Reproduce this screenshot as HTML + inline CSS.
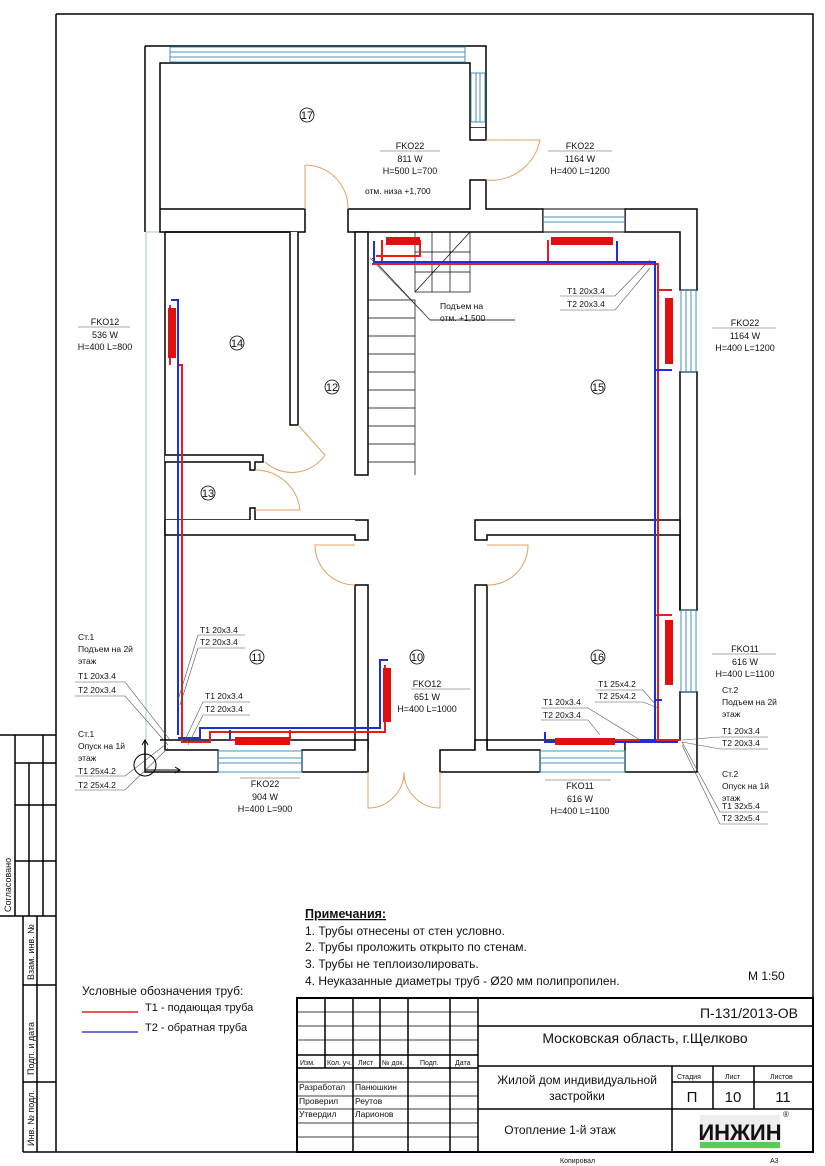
<!DOCTYPE html>
<html><head><meta charset="utf-8"><style>
html,body{margin:0;padding:0;background:#fff}
svg{display:block}
text{font-family:"Liberation Sans","Noto Sans CJK SC",sans-serif;fill:#111}
</style></head><body>
<svg width="825" height="1166" viewBox="0 0 825 1166" xmlns="http://www.w3.org/2000/svg">
<rect width="825" height="1166" fill="#fff"/>
<!-- frame -->
<g fill="none" stroke="#000" stroke-width="1.5">
<path d="M56 14 H813 V1152 H23"/>
<line x1="56" y1="14" x2="56" y2="1152"/>
<!-- top stamp -->
<path d="M0 735 H56 M15 735 V916 M29 763 V916 M43 735 V916 M15 763 H56 M15 805 H56 M15 861 H56 M0 916 H56"/>
<!-- lower stamp -->
<path d="M23 916 V1152 M37 916 V1152 M23 985 H56 M23 1082 H56"/>
</g>
<text transform="translate(11,912) rotate(-90)" font-size="9">Согласовано</text>
<text transform="translate(34,980) rotate(-90)" font-size="9">Взам. инв. №</text>
<text transform="translate(34,1075) rotate(-90)" font-size="9">Подп. и дата</text>
<text transform="translate(34,1146) rotate(-90)" font-size="9">Инв. № подл.</text>

<!-- light outline of building -->
<g fill="none" stroke="#9cc" stroke-width="1">
<path d="M146 232 V770"/>
<path d="M146 232 H165"/>
</g>

<!-- walls -->
<g fill="#fff" stroke="#000" stroke-width="1.5">
<!-- room 17 -->
<path d="M145 46 H486 V128 H470 V63 H160 V209 H305 V232 H160 V209"/>
<path d="M145 46 V232"/>
<path d="M470 128 V140 H486 V128"/>
<path d="M470 180 H486 V209 H543 V232 H348 V209 H470 Z"/>
<path d="M625 209 H697 V290 H680 V232 H625 Z"/>
<path d="M543 209 H625 V232 H543 Z" stroke-width="1"/>
<!-- right outer wall -->
<path d="M680 372 H697 V610 H680 Z"/>
<path d="M680 692 H697 V772 H625 V740 H680 Z"/>
<!-- left rooms -->
<path d="M165 232 V740"/>
<path d="M165 232 H290 V425 H298 V232"/>
<path d="M355 232 H368 V475 H355 Z"/>
<path d="M165 455 H263 V462 H255 V470 H250 V462 H165"/>
<path d="M165 520 H250 V508 H255 V520 H355 V520"/>
<path d="M165 520 V535 H355 V540 H368 V520 H355"/>
<path d="M355 585 H368 V750 H355 Z"/>
<path d="M475 520 H680 V535 H487 V540 H475 Z"/>
<path d="M475 585 H487 V750 H475 Z"/>
<path d="M680 535 V610"/>
<!-- bottom wall -->
<path d="M145 740 V772 H218 V750 H165 V740"/>
<path d="M302 750 H355 V740 H368 V772 H302 Z"/>
<path d="M440 750 H475 V740 H487 V750 H540 V772 H440 Z"/>
<path d="M160 740 H355"/>
<path d="M487 740 H680"/>
</g>
<!-- windows -->
<g fill="none" stroke="#4a90c0" stroke-width="1">
<rect x="170" y="47" width="295" height="15"/><line x1="170" y1="52" x2="465" y2="52"/><line x1="170" y1="57" x2="465" y2="57"/>
<rect x="471" y="73" width="14" height="49"/><line x1="476" y1="73" x2="476" y2="122"/><line x1="480" y1="73" x2="480" y2="122"/>
<line x1="543" y1="217" x2="625" y2="217"/><line x1="543" y1="222" x2="625" y2="222"/>
<rect x="681" y="290" width="15" height="82"/><line x1="686" y1="290" x2="686" y2="372"/><line x1="691" y1="290" x2="691" y2="372"/>
<rect x="681" y="610" width="15" height="82"/><line x1="686" y1="610" x2="686" y2="692"/><line x1="691" y1="610" x2="691" y2="692"/>
<rect x="218" y="751" width="84" height="21"/><line x1="218" y1="758" x2="302" y2="758"/><line x1="218" y1="763" x2="302" y2="763"/>
<rect x="540" y="751" width="85" height="21"/><line x1="540" y1="758" x2="625" y2="758"/><line x1="540" y1="763" x2="625" y2="763"/>
</g>
<!-- doors -->
<g fill="none" stroke="#e0a060" stroke-width="1">
<path d="M486 140 H540 A50 50 0 0 1 486 180"/>
<path d="M305 165 A43 43 0 0 1 348 209 M305 165 V209"/>
<path d="M298 425 L325 455 A40 40 0 0 1 265 462"/>
<path d="M255 470 A45 45 0 0 1 300 510 H255"/>
<path d="M355 545 H315 A40 40 0 0 0 355 585"/>
<path d="M487 545 H528 A40 40 0 0 1 487 585"/>
<path d="M368 772 V808 A36 36 0 0 0 404 772 M440 772 V808 A36 36 0 0 1 404 772"/>
</g>
<!-- stairs -->
<g fill="none" stroke="#000" stroke-width="0.7">
<rect x="415" y="232" width="55" height="60"/>
<path d="M415 252 H470 M415 272 H470 M432 232 V292 M450 232 V292"/>
<path d="M368 300 H415 V475 M368 318 H415 M368 336 H415 M368 354 H415 M368 372 H415 M368 390 H415 M368 408 H415 M368 426 H415 M368 444 H415 M368 462 H415"/>
<path d="M415 292 L470 232"/>
<path d="M372 258 L430 320 H515"/>
</g>
<!-- pipes -->
<g fill="none" stroke-width="2">
<path stroke="#e02020" d="M372 264 H658 V740 H610 M658 740 H680 M382 240 V264 M420 240 V256 H376 M548 240 V264 M628 262 V264 M658 290 H672 M658 700 H655 V615 H672"/>
<path stroke="#2030d0" d="M374 241 V262 H655 V740 H640 M617 241 V262 M655 370 H672 M655 700 H662 M545 732 V742 H678"/>
<path stroke="#e02020" d="M178 305 V365 H182 V742 H210 V732 H385 V665 M170 305 V365"/>
<path stroke="#2030d0" d="M171 300 H178 V735 M178 738 H200 V728 H380 V660 H388 M230 730 V740"/>
<path stroke="#e02020" d="M230 740 H290 V730"/>
</g>
<!-- radiators -->
<g fill="#e01010">
<rect x="386" y="237" width="34" height="8"/>
<rect x="551" y="237" width="62" height="8"/>
<rect x="665" y="298" width="8" height="66"/>
<rect x="168" y="308" width="8" height="50"/>
<rect x="383" y="668" width="8" height="54"/>
<rect x="665" y="620" width="8" height="65"/>
<rect x="235" y="737" width="55" height="8"/>
<rect x="555" y="738" width="60" height="7"/>
</g>
<!-- leader lines -->
<g fill="none" stroke="#555" stroke-width="0.6">
<path d="M560 296 H615 L650 260 M560 310 H615 L650 268"/>
<path d="M370 258 L430 320"/>
<path d="M198 635 H245 M198 648 H245 M198 635 L178 700 M198 648 L180 705"/>
<path d="M75 682 H125 L170 740 M75 696 H125 L168 745"/>
<path d="M203 702 H250 M203 715 H250 M203 702 L185 740 M203 715 L188 745"/>
<path d="M75 776 H125 L165 745 M75 790 H125 L168 748"/>
<path d="M595 690 H643 L656 705 M595 702 H643 L658 708"/>
<path d="M541 708 H588 L640 740 M541 720 H588 L600 735"/>
<path d="M720 737 H768 M720 749 H768 M720 737 L682 740 M720 749 L682 742"/>
<path d="M720 812 H768 M720 824 H768 M720 812 L682 742 M720 824 L682 745"/>
<path d="M380 151 H440 M548 151 H612 M78 327 H130 M712 328 H776 M411 689 H470 M712 654 H776 M240 778 H300 M545 780 H611"/>
</g>
<!-- axis symbol -->
<g fill="none" stroke="#000" stroke-width="1">
<circle cx="145" cy="765" r="11"/>
<path d="M145 740 V770 H180 M175 767 L180 770 L175 773 M142 745 L145 740 L148 745"/>
</g>
<!-- room numbers -->
<g font-size="11" text-anchor="middle">
<circle cx="307" cy="115" r="7" fill="none" stroke="#000" stroke-width="0.8"/><text x="307" y="119">17</text>
<circle cx="237" cy="343" r="7" fill="none" stroke="#000" stroke-width="0.8"/><text x="237" y="347">14</text>
<circle cx="332" cy="387" r="7" fill="none" stroke="#000" stroke-width="0.8"/><text x="332" y="391">12</text>
<circle cx="598" cy="387" r="7" fill="none" stroke="#000" stroke-width="0.8"/><text x="598" y="391">15</text>
<circle cx="208" cy="493" r="7" fill="none" stroke="#000" stroke-width="0.8"/><text x="208" y="497">13</text>
<circle cx="257" cy="657" r="7" fill="none" stroke="#000" stroke-width="0.8"/><text x="257" y="661">11</text>
<circle cx="417" cy="657" r="7" fill="none" stroke="#000" stroke-width="0.8"/><text x="417" y="661">10</text>
<circle cx="598" cy="657" r="7" fill="none" stroke="#000" stroke-width="0.8"/><text x="598" y="661">16</text>
</g>
<!-- labels -->
<g font-size="9" text-anchor="middle">
<text x="410" y="149">FKO22</text><text x="410" y="162">811 W</text><text x="410" y="174">H=500 L=700</text>
<text x="580" y="149">FKO22</text><text x="580" y="162">1164 W</text><text x="580" y="174">H=400 L=1200</text>
<text x="105" y="325">FKO12</text><text x="105" y="338">536 W</text><text x="105" y="350">H=400 L=800</text>
<text x="745" y="326">FKO22</text><text x="745" y="339">1164 W</text><text x="745" y="351">H=400 L=1200</text>
<text x="427" y="687">FKO12</text><text x="427" y="700">651 W</text><text x="427" y="712">H=400 L=1000</text>
<text x="745" y="652">FKO11</text><text x="745" y="665">616 W</text><text x="745" y="677">H=400 L=1100</text>
<text x="265" y="787">FKO22</text><text x="265" y="800">904 W</text><text x="265" y="812">H=400 L=900</text>
<text x="580" y="789">FKO11</text><text x="580" y="802">616 W</text><text x="580" y="814">H=400 L=1100</text>
</g>
<g font-size="8.5">
<text x="365" y="194">отм. низа +1,700</text>
<text x="440" y="309">Подъем на</text><text x="440" y="321">отм. +1,500</text>
<text x="567" y="294">T1 20x3.4</text><text x="567" y="307">T2 20x3.4</text>
<text x="200" y="633">T1 20x3.4</text><text x="200" y="645">T2 20x3.4</text>
<text x="78" y="640">Ст.1</text><text x="78" y="652">Подъем на 2й</text><text x="78" y="664">этаж</text>
<text x="78" y="679">T1 20x3.4</text><text x="78" y="693">T2 20x3.4</text>
<text x="205" y="699">T1 20x3.4</text><text x="205" y="712">T2 20x3.4</text>
<text x="78" y="737">Ст.1</text><text x="78" y="749">Опуск на 1й</text><text x="78" y="761">этаж</text>
<text x="78" y="774">T1 25x4.2</text><text x="78" y="788">T2 25x4.2</text>
<text x="598" y="687">T1 25x4.2</text><text x="598" y="699">T2 25x4.2</text>
<text x="543" y="705">T1 20x3.4</text><text x="543" y="718">T2 20x3.4</text>
<text x="722" y="693">Ст.2</text><text x="722" y="705">Подъем на 2й</text><text x="722" y="717">этаж</text>
<text x="722" y="734">T1 20x3.4</text><text x="722" y="746">T2 20x3.4</text>
<text x="722" y="748" fill="none"></text>
<text x="722" y="777">Ст.2</text><text x="722" y="789">Опуск на 1й</text><text x="722" y="801">этаж</text>
<text x="722" y="809">T1 32x5.4</text><text x="722" y="821">T2 32x5.4</text>
</g>
<!-- notes -->
<g font-size="12">
<text x="305" y="918" font-weight="bold" font-size="12.5" text-decoration="underline">Примечания:</text>
<text x="305" y="935">1. Трубы отнесены от стен условно.</text>
<text x="305" y="951">2. Трубы проложить открыто по стенам.</text>
<text x="305" y="968">3. Трубы не теплоизолировать.</text>
<text x="305" y="985">4. Неуказанные диаметры труб - Ø20 мм полипропилен.</text>
<text x="748" y="980">М 1:50</text>
<text x="82" y="995">Условные обозначения  труб:</text>
</g>
<g font-size="11">
<line x1="82" y1="1012" x2="138" y2="1012" stroke="#e02020" stroke-width="1.5"/>
<text x="145" y="1011">T1 - подающая труба</text>
<line x1="82" y1="1032" x2="138" y2="1032" stroke="#4040d0" stroke-width="1.5"/>
<text x="145" y="1031">T2 - обратная труба</text>
</g>
<!-- title block -->
<g fill="none" stroke="#000">
<rect x="297" y="998" width="516" height="154" stroke-width="2"/>
<path stroke-width="1.5" d="M478 998 V1152 M297 1068 H478 M325 998 V1068 M353 998 V1152 M380 998 V1068 M408 998 V1152 M450 998 V1152 M478 1026 H813 M478 1066 H813 M478 1109 H813 M672 1066 V1152 M713 1066 V1109 M754 1066 V1109 M672 1082 H813 M297 1055 H478"/>
<path stroke-width="0.8" d="M297 1012 H478 M297 1026 H478 M297 1040 H478 M297 1082 H478 M297 1096 H478 M297 1109 H478 M297 1123 H478 M297 1137 H478"/>
</g>
<g font-size="7">
<text x="300" y="1065">Изм.</text><text x="327" y="1065">Кол. уч.</text><text x="358" y="1065">Лист</text><text x="382" y="1065">№ док.</text><text x="420" y="1065">Подп.</text><text x="455" y="1065">Дата</text>
<text x="677" y="1079">Стадия</text><text x="725" y="1079">Лист</text><text x="770" y="1079">Листов</text>
<text x="560" y="1163">Копировал</text><text x="770" y="1163">А3</text>
</g>
<g font-size="8.5">
<text x="299" y="1090">Разработал</text><text x="355" y="1090">Панюшкин</text>
<text x="299" y="1104">Проверил</text><text x="355" y="1104">Реутов</text>
<text x="299" y="1117">Утвердил</text><text x="355" y="1117">Ларионов</text>
</g>
<g font-size="14">
<text x="798" y="1018" text-anchor="end">П-131/2013-ОВ</text>
<text x="645" y="1043" text-anchor="middle">Московская область, г.Щелково</text>
</g>
<g font-size="12" text-anchor="middle">
<text x="577" y="1084">Жилой дом индивидуальной</text>
<text x="577" y="1100">застройки</text>
<text x="560" y="1134">Отопление 1-й этаж</text>
</g>
<g font-size="15" text-anchor="middle">
<text x="692" y="1102">П</text><text x="733" y="1102">10</text><text x="783" y="1102">11</text>
</g>
<rect x="700" y="1115" width="80" height="34" fill="#eee"/>
<text x="740" y="1140" text-anchor="middle" font-size="22" font-weight="bold" fill="#000">ИНЖИН</text>
<rect x="700" y="1142" width="80" height="6" fill="#5c5"/>
<text x="783" y="1117" font-size="8">®</text>
</svg>
</body></html>
